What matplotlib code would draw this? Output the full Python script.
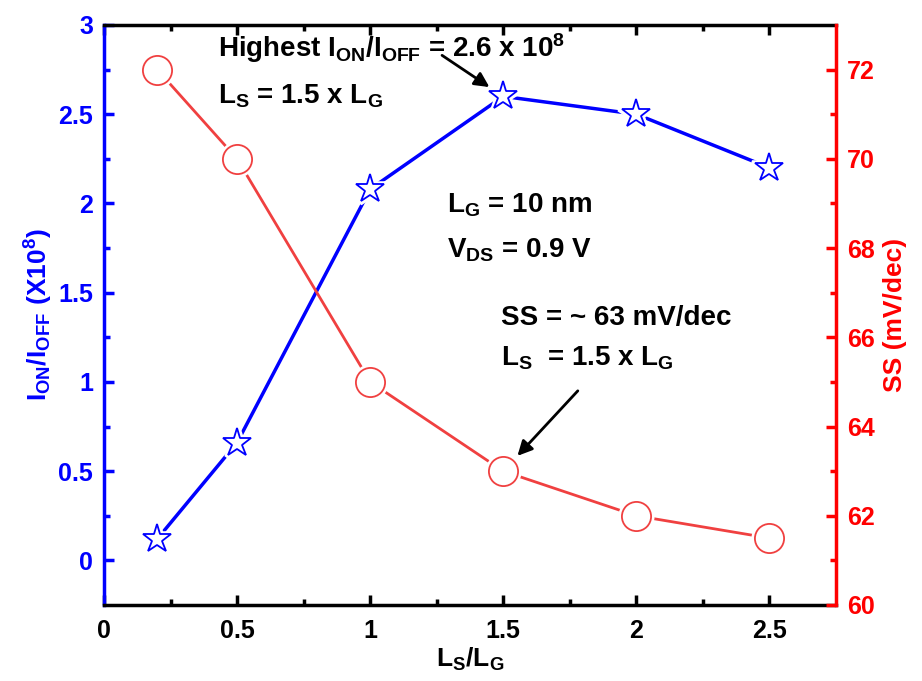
import numpy as np
import matplotlib
matplotlib.use('Agg')
import matplotlib.pyplot as plt

plt.rcParams['font.family'] = 'Liberation Sans'
plt.rcParams['font.weight'] = 'bold'
plt.rcParams['axes.labelweight'] = 'bold'
plt.rcParams['mathtext.fontset'] = 'custom'
plt.rcParams['mathtext.rm'] = 'Liberation Sans:bold'
plt.rcParams['mathtext.it'] = 'Liberation Sans:bold'
plt.rcParams['mathtext.bf'] = 'Liberation Sans:bold'
plt.rcParams['mathtext.default'] = 'rm'

ls_lg = [0.2, 0.5, 1.0, 1.5, 2.0, 2.5]
ion_ioff = [0.12, 0.66, 2.08, 2.6, 2.5, 2.2]   # x10^8
ss = [72.0, 70.0, 65.0, 63.0, 62.0, 61.5]      # mV/dec

blue = '#0000ff'
red = '#ff0000'
red_line = '#f04040'

fig = plt.figure(figsize=(9.22, 6.81), dpi=100)
ax = fig.add_axes([104/922, 1-605/681, (836-104)/922, (605-25)/681])
ax2 = ax.twinx()

# ION/IOFF on the left axis
ax.plot(ls_lg, ion_ioff, color=blue, lw=2.5, zorder=2)
ax.plot(ls_lg, ion_ioff, ls='none', marker='*', ms=25, mfc='white', mec='white', mew=4, zorder=3)
ax.plot(ls_lg, ion_ioff, ls='none', marker='*', ms=21, mfc='white', mec=blue, mew=1.3, zorder=4)

# SS on the right axis
ax2.plot(ls_lg, ss, color=red_line, lw=2, zorder=2)
ax2.plot(ls_lg, ss, ls='none', marker='o', ms=21, mfc='white', mec='white', mew=5, zorder=3)
ax2.plot(ls_lg, ss, ls='none', marker='o', ms=21, mfc='white', mec=red_line, mew=1.3, zorder=4)

ax.set_xlim(0, 2.75)
ax.set_ylim(-0.25, 3)
ax2.set_ylim(60, 73)

ax.set_xticks([0, 0.5, 1, 1.5, 2, 2.5])
ax.set_xticklabels(['0', '0.5', '1', '1.5', '2', '2.5'])
ax.set_xticks(np.arange(0.25, 2.75, 0.5), minor=True)
ax.set_yticks([0, 0.5, 1, 1.5, 2, 2.5, 3])
ax.set_yticklabels(['0', '0.5', '1', '1.5', '2', '2.5', '3'])
ax.set_yticks(np.arange(-0.25, 3, 0.5)[1:], minor=True)
ax2.set_yticks([60, 62, 64, 66, 68, 70, 72])
ax2.set_yticks([61, 63, 65, 67, 69, 71], minor=True)

for a in (ax, ax2):
    for s in a.spines.values():
        s.set_linewidth(2.5)
ax.spines['left'].set_color(blue)
ax2.spines['left'].set_visible(False)
ax.spines['right'].set_visible(False)
ax2.spines['right'].set_color(red)
ax2.spines['top'].set_visible(False)
ax2.spines['bottom'].set_visible(False)

tick_fs = 18
ax.tick_params(axis='x', which='both', direction='in', top=True, labelsize=tick_fs, colors='black', pad=10)
ax.tick_params(axis='y', which='both', direction='in', colors=blue, labelsize=tick_fs, right=False, pad=8)
ax2.tick_params(axis='y', which='both', direction='in', colors=red, labelsize=tick_fs, pad=8)
for a in (ax, ax2):
    a.tick_params(which='major', length=7, width=2.5)
    a.tick_params(which='minor', length=4, width=2.5)

ax.set_xlabel(r'$\mathrm{L_S/L_G}$', fontsize=19, labelpad=2)
ax.set_ylabel(r'$\mathrm{I_{ON}/I_{OFF}\ (X10^8)}$', fontsize=19, color=blue, labelpad=2)
ax2.set_ylabel('SS (mV/dec)', fontsize=19, color=red, labelpad=6)

fs = 20
ax.text(0.43, 2.87, r'Highest $\mathrm{I_{ON}/I_{OFF}}$ = 2.6 x 10$^8$', fontsize=fs, va='center', zorder=6)
ax.text(0.43, 2.6, r'$\mathrm{L_S}$ = 1.5 x $\mathrm{L_G}$', fontsize=fs, va='center', zorder=6)
ax.text(1.29, 1.99, r'$\mathrm{L_G}$ = 10 nm', fontsize=fs, va='center')
ax.text(1.29, 1.74, r'$\mathrm{V_{DS}}$ = 0.9 V', fontsize=fs, va='center')
ax.text(1.49, 1.36, 'SS = ~ 63 mV/dec', fontsize=fs, va='center')
ax.text(1.49, 1.13, r'$\mathrm{L_S}$  = 1.5 x $\mathrm{L_G}$', fontsize=fs, va='center')

arrow = dict(arrowstyle='-|>', color='black', lw=2, mutation_scale=22, shrinkA=0, shrinkB=12)
ax.annotate('', xy=(ls_lg[3], ion_ioff[3]), xytext=(1.27, 2.83), arrowprops=arrow, zorder=5)
arrow2 = dict(arrow, shrinkB=15)
ax2.annotate('', xy=(ls_lg[3], ss[3]), xytext=(1.78, 64.8), arrowprops=arrow2, zorder=5)

fig.savefig('out.png', dpi=100)
